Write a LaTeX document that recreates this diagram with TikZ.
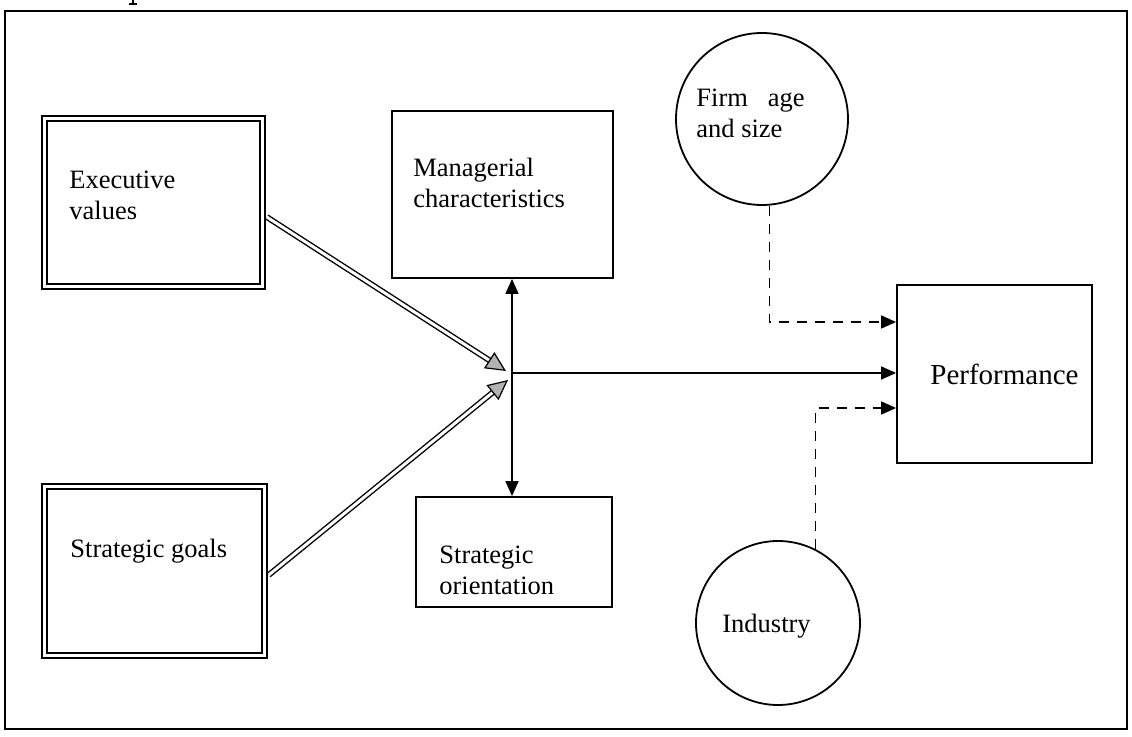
\documentclass[tikz,border=0pt]{standalone}
\usepackage{fontspec}
\setmainfont{Liberation Serif}
\usetikzlibrary{arrows.meta,calc}
\begin{document}
\begin{tikzpicture}[x=0.5pt,y=-0.5pt,
  plainbox/.style={draw=black, line width=0.9pt, inner sep=0pt},
  dblbox/.style={draw=black, double, double distance=1.6pt, line width=0.75pt, inner sep=0pt},
  roundnode/.style={draw=black, circle, line width=0.9pt, inner sep=0pt},
  lbl/.style={font=\fontsize{13.25}{15.5}\selectfont, align=left, inner sep=0pt, anchor=base west},
  link/.style={line width=0.8pt, -{Triangle[length=7.5pt,width=6.5pt]}},
  dashlink/.style={link, dash pattern=on 5pt off 4pt},
  twin/.style={double, double distance=1.5pt, line width=0.7pt},
  twinhead/.style={line width=0.6pt, -{Triangle[length=10pt,width=9.5pt,fill=gray!60]}}
]
\useasboundingbox (0,0) rectangle (1132,737);

% outer frame and the foot of a stroke from the line above it
\draw[line width=1pt] (5,11) rectangle (1127,729);
\draw[line width=0.8pt] (133,0) -- (133,4) (129,4) -- (137,4);

% boxes
\node[dblbox, minimum width=109pt, minimum height=84pt] (ev) at (153.5,202.5) {};
\node[dblbox, minimum width=110pt, minimum height=84.5pt] (sg) at (154.5,571) {};
\node[plainbox, minimum width=110.5pt, minimum height=83.5pt] (mc) at (502.5,194.5) {};
\node[plainbox, minimum width=98pt, minimum height=55pt] (so) at (514,552) {};
\node[plainbox, minimum width=97.5pt, minimum height=89pt] (perf) at (994.5,374) {};
\node[roundnode, minimum size=86pt] (firm) at (762,119) {};
\node[roundnode, minimum size=82pt] (ind) at (778,623) {};

% labels (base anchor sits on the last line)
\node[lbl] (evt) at (69,220) {Executive\\values};
\node[lbl] (sgt) at (70,558) {Strategic goals};
\node[lbl] (mct) at (413,208) {Managerial\\characteristics};
\node[lbl] (sot) at (439,595) {Strategic\\orientation};
\node[lbl] (firmt) at (696,138) {Firm\hspace{0.75em}age\\and size};
\node[lbl] (indt) at (722,633) {Industry};
\node[lbl, font=\fontsize{14.5}{17}\selectfont] (perft) at (930,385) {Performance};

% junction and solid arrows
\coordinate (J) at (512,373);
\draw[link] (J) -- (J |- mc.south);
\draw[link] (J) -- (J |- so.north);
\draw[link] (J) -- (J -| perf.west);

% dashed influences on performance
\draw[dashlink] (firm.-85) |- ($(perf.west)+(0,-52)$);
\draw[dashlink] (ind.63) |- ($(perf.west)+(0,34)$);

% double-line arrows into the junction
\coordinate (s1) at ($(ev.east)+(3.5,14.5)$);
\coordinate (t1) at ($(J)+(-6,-2)$);
\coordinate (s2) at ($(sg.east)+(3.5,4)$);
\coordinate (t2) at ($(J)+(-4,7)$);
\draw[twin, shorten >=9pt] (s1) -- (t1);
\draw[twin, shorten >=9pt] (s2) -- (t2);
\draw[twinhead] ($(t1)!10pt!(s1)$) -- (t1);
\draw[twinhead] ($(t2)!10pt!(s2)$) -- (t2);
\end{tikzpicture}
\end{document}
